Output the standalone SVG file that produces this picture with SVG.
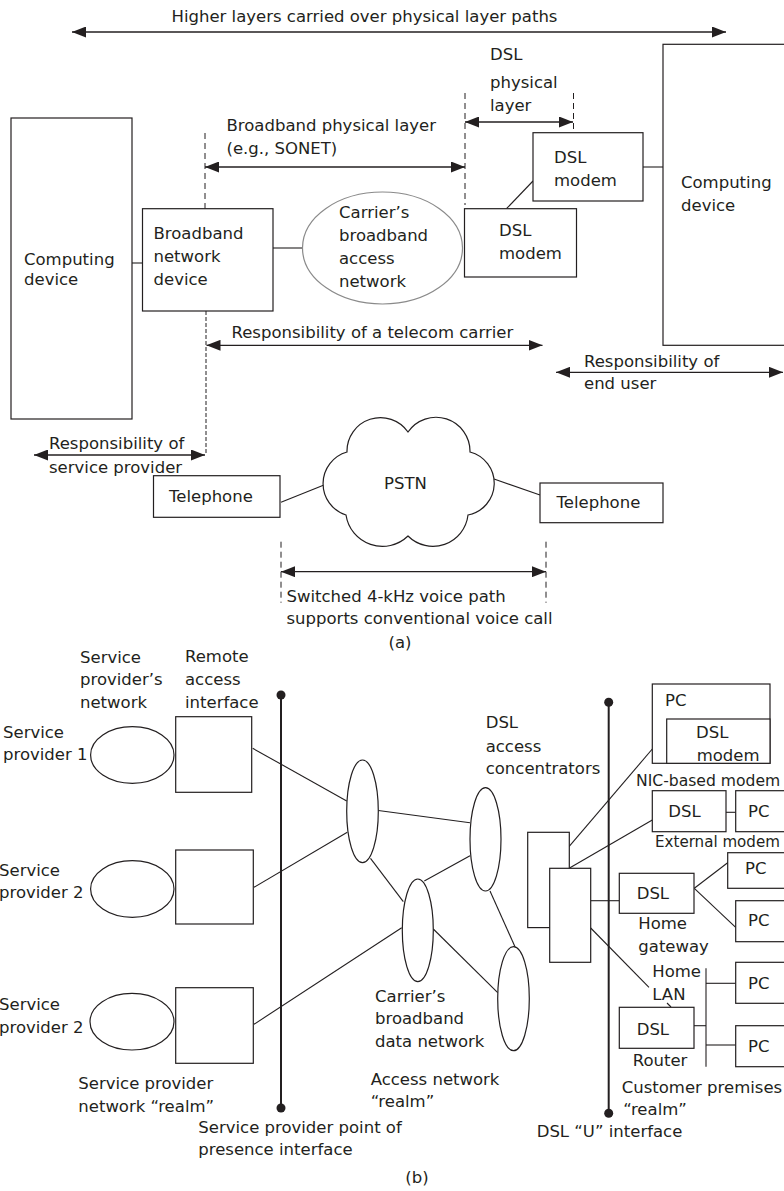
<svg xmlns="http://www.w3.org/2000/svg" width="784" height="1191" viewBox="0 0 784 1191">
<style>
text{font-family:"DejaVu Sans","Liberation Sans",sans-serif;font-size:16.5px;fill:#231f20}
.b{fill:#fff;stroke:#231f20;stroke-width:1.2}
.l{fill:none;stroke:#231f20;stroke-width:1.1}
.a{fill:none;stroke:#231f20;stroke-width:1.3;marker-start:url(#ah);marker-end:url(#ah)}
.d{fill:none;stroke:#231f20;stroke-width:1;stroke-dasharray:6 4}
.bus{fill:none;stroke:#231f20;stroke-width:2}
.dot{fill:#231f20}
</style>
<defs>
<marker id="ah" viewBox="0 0 14 11" refX="14" refY="5.5" markerWidth="14" markerHeight="11" orient="auto-start-reverse" markerUnits="userSpaceOnUse"><path d="M0,0 L14,5.5 L0,11 z" fill="#231f20"/></marker>
</defs>
<rect width="784" height="1191" fill="#fff"/>

<!-- Part (a) -->
<g id="connectors-a">
<line class="a" x1="72" y1="32" x2="726" y2="32"/>
<line class="l" x1="132" y1="263" x2="143" y2="263"/>
<line class="l" x1="273" y1="248" x2="303" y2="248"/>
<line class="d" x1="205" y1="133" x2="205" y2="209"/>
<line class="d" x1="206" y1="311" x2="206" y2="455" style="stroke-dasharray:4 2"/>
<line class="a" x1="205" y1="167" x2="465" y2="167"/>
<line class="d" x1="465" y1="93" x2="465" y2="205"/>
<line class="a" x1="465" y1="122" x2="573" y2="122"/>
<line class="d" x1="573.5" y1="93" x2="573.5" y2="133"/>
<line class="l" x1="643" y1="167" x2="663" y2="167"/>
<line class="l" x1="506.5" y1="208.7" x2="533" y2="181"/>
<line class="a" x1="206.5" y1="345.3" x2="542.5" y2="345.3"/>
<line class="a" x1="556" y1="372.3" x2="783" y2="372.3"/>
<line class="a" x1="34" y1="455" x2="205" y2="455"/>
<line class="l" x1="281" y1="502.3" x2="324" y2="485"/>
<line class="l" x1="494" y1="479" x2="540" y2="495"/>
<line class="d" x1="281" y1="541.7" x2="281" y2="602.7"/>
<line class="d" x1="546" y1="541.7" x2="546" y2="602.7"/>
<line class="a" x1="281" y1="571.7" x2="546" y2="571.7"/>
</g>
<text x="171.5" y="21.7">Higher layers carried over physical layer paths</text>

<g id="computing-left">
<rect class="b" x="11" y="118" width="121" height="301"/>
<text x="24" y="264.5">Computing</text>
<text x="24" y="285">device</text>
</g>
<g id="broadband-device">
<rect class="b" x="142.5" y="208.7" width="130.5" height="102.3"/>
<text x="153.5" y="238.5">Broadband</text>
<text x="153.5" y="262">network</text>
<text x="153.5" y="285">device</text>
</g>
<g id="carrier-network">
<ellipse cx="382.5" cy="248" rx="80" ry="56" fill="#fff" stroke="#8a8a8a" stroke-width="1.2"/>
<text x="339" y="218">Carrier’s</text>
<text x="339" y="241">broadband</text>
<text x="339" y="264">access</text>
<text x="339" y="286.5">network</text>
</g>
<g id="label-bb-phys">
<text x="226.5" y="130.7">Broadband physical layer</text>
<text x="226.5" y="153.5">(e.g., SONET)</text>
</g>
<g id="label-dsl-phys">
<text x="490" y="60">DSL</text>
<text x="490" y="88.3">physical</text>
<text x="490" y="111">layer</text>
</g>
<g id="dsl-modem-upper">
<rect class="b" x="533" y="132.7" width="110" height="68.3"/>
<text x="554" y="163.3">DSL</text>
<text x="554" y="185.7">modem</text>
</g>
<g id="dsl-modem-lower">
<rect class="b" x="464.5" y="208.7" width="112" height="68.3"/>
<text x="499" y="235.7">DSL</text>
<text x="499" y="259">modem</text>
</g>
<g id="computing-right">
<rect class="b" x="663" y="44.3" width="140" height="301"/>
<text x="681" y="188.3">Computing</text>
<text x="681" y="211">device</text>
</g>
<text x="231.5" y="338.3">Responsibility of a telecom carrier</text>
<text x="584" y="366.7">Responsibility of</text>
<text x="584" y="389">end user</text>
<text x="49" y="449.3">Responsibility of</text>
<text x="49" y="472.7">service provider</text>
<g id="telephone-left">
<rect class="b" x="153.5" y="475.7" width="126.5" height="41.6"/>
<text x="169" y="501.7">Telephone</text>
</g>
<g id="pstn">
<path class="b" d="M408,432 A34,34 0 0 1 470,452 A32.3,32.3 0 0 1 468,515 A35.3,35.3 0 0 1 408,536 A36.8,36.8 0 0 1 346,515 A32.9,32.9 0 0 1 347,452 A33.5,33.5 0 0 1 408,432 Z"/>
<text x="405.5" y="489.3" text-anchor="middle">PSTN</text>
</g>
<g id="telephone-right">
<rect class="b" x="540" y="483" width="123" height="39.7"/>
<text x="556.5" y="508.3">Telephone</text>
</g>
<text x="286.5" y="601.7">Switched 4-kHz voice path</text>
<text x="286.5" y="624">supports conventional voice call</text>
<text x="400" y="648" text-anchor="middle">(a)</text>

<!-- Part (b) -->
<g id="connectors-b">
<line class="l" x1="252.7" y1="748.3" x2="346.7" y2="801"/>
<line class="l" x1="254" y1="887.3" x2="347.3" y2="832.3"/>
<line class="l" x1="378.3" y1="810.5" x2="470" y2="822.7"/>
<line class="l" x1="370.5" y1="858.3" x2="403.3" y2="901.7"/>
<line class="l" x1="424.3" y1="881" x2="470" y2="855.7"/>
<line class="l" x1="401.7" y1="927.7" x2="254" y2="1024.3"/>
<line class="l" x1="433.3" y1="929" x2="497.7" y2="992.7"/>
<line class="l" x1="490" y1="891" x2="515" y2="946.7"/>
<line class="l" x1="569" y1="846.7" x2="652.3" y2="749"/>
<line class="l" x1="570" y1="867.7" x2="652.3" y2="820"/>
<line class="l" x1="726" y1="812.3" x2="735.7" y2="812.3"/>
<line class="l" x1="590.7" y1="900.7" x2="619.3" y2="900.7"/>
<line class="l" x1="694.3" y1="888.3" x2="728.3" y2="862.3"/>
<line class="l" x1="694.3" y1="888.3" x2="735.7" y2="927.3"/>
<line class="l" x1="590.7" y1="928" x2="649" y2="987.3"/>
<line class="l" x1="667" y1="1003" x2="671" y2="1007"/>
<line class="l" x1="706" y1="968.3" x2="706" y2="1066.7"/>
<line class="l" x1="694" y1="1025.7" x2="706" y2="1025.7"/>
<line class="l" x1="706" y1="983.3" x2="735.7" y2="983.3"/>
<line class="l" x1="706" y1="1045" x2="735.7" y2="1045"/>
</g>

<text x="80" y="662.7">Service</text>
<text x="80" y="685.3">provider’s</text>
<text x="80" y="708.3">network</text>
<text x="185" y="661.7">Remote</text>
<text x="185" y="685">access</text>
<text x="185" y="707.7">interface</text>

<g id="sp1">
<text x="3" y="737.7">Service</text>
<text x="3" y="760">provider 1</text>
<ellipse class="b" cx="132.3" cy="755" rx="41.7" ry="28.3"/>
<rect class="b" x="175.7" y="716.7" width="76" height="75.6"/>
</g>
<g id="sp2">
<text x="-1" y="876">Service</text>
<text x="-1" y="898.3">provider 2</text>
<ellipse class="b" cx="132.3" cy="889" rx="41.7" ry="28.3"/>
<rect class="b" x="175.7" y="850" width="77.6" height="74"/>
</g>
<g id="sp3">
<text x="-1" y="1010">Service</text>
<text x="-1" y="1033.3">provider 2</text>
<ellipse class="b" cx="132" cy="1021.7" rx="42" ry="28.3"/>
<rect class="b" x="175.7" y="987.7" width="77.6" height="75.6"/>
</g>
<text x="78.3" y="1089.3">Service provider</text>
<text x="78.3" y="1111.7">network “realm”</text>

<g id="pop-interface">
<line class="bus" x1="281" y1="695" x2="281" y2="1108"/>
<circle class="dot" cx="281" cy="695" r="4.5"/>
<circle class="dot" cx="281" cy="1108" r="4.5"/>
<text x="198.3" y="1133.3">Service provider point of</text>
<text x="198.3" y="1155">presence interface</text>
</g>

<g id="carrier-data-network">
<ellipse class="b" cx="362.5" cy="811.3" rx="15.8" ry="51.3"/>
<ellipse class="b" cx="485.5" cy="839.3" rx="15.5" ry="51.7"/>
<ellipse class="b" cx="417.8" cy="930.3" rx="15.5" ry="51.3"/>
<ellipse class="b" cx="513.5" cy="998.7" rx="15.8" ry="52"/>
<text x="375" y="1001.7">Carrier’s</text>
<text x="375" y="1024">broadband</text>
<text x="375" y="1046.7">data network</text>
</g>
<text x="370.7" y="1085">Access network</text>
<text x="370.7" y="1106.7">“realm”</text>

<g id="dsl-concentrators">
<rect class="b" x="527.7" y="832.3" width="41.6" height="95.3"/>
<rect class="b" x="549.7" y="868.3" width="41" height="94"/>
<text x="485.7" y="728.3">DSL</text>
<text x="485.7" y="751.7">access</text>
<text x="485.7" y="774">concentrators</text>
</g>

<g id="u-interface">
<line class="bus" x1="608.7" y1="702.3" x2="608.7" y2="1113.3"/>
<circle class="dot" cx="608.7" cy="702.3" r="4.5"/>
<circle class="dot" cx="608.7" cy="1113.3" r="4.5"/>
<text x="536.7" y="1136.7">DSL “U” interface</text>
</g>

<g id="nic-modem">
<rect class="b" x="652.3" y="684" width="117.7" height="79.3"/>
<text x="665" y="706">PC</text>
<rect class="b" x="666.7" y="719" width="103.3" height="44.3"/>
<text x="696" y="738.3">DSL</text>
<text x="696.7" y="760.7">modem</text>
<text x="636" y="786" style="font-size:15.6px">NIC-based modem</text>
</g>
<g id="external-modem">
<rect class="b" x="652.3" y="790.7" width="73.7" height="41"/>
<text x="668.3" y="817.3">DSL</text>
<rect class="b" x="735.7" y="790.7" width="60" height="41"/>
<text x="748" y="817.3">PC</text>
<text x="655" y="846.7" style="font-size:15.1px">External modem</text>
</g>
<g id="home-gateway">
<rect class="b" x="619.3" y="873.3" width="74.7" height="40"/>
<text x="636.7" y="899">DSL</text>
<text x="638.3" y="929.3">Home</text>
<text x="638.3" y="951.7">gateway</text>
</g>
<g id="gw-pc1">
<rect class="b" x="727.7" y="852.7" width="70" height="35.6"/>
<text x="745" y="874">PC</text>
</g>
<g id="gw-pc2">
<rect class="b" x="735.7" y="900.7" width="60" height="41"/>
<text x="748" y="926">PC</text>
</g>
<text x="652.3" y="977.3">Home</text>
<text x="652.3" y="1000">LAN</text>
<g id="router">
<rect class="b" x="619.3" y="1007.3" width="74.7" height="41"/>
<text x="636.7" y="1035">DSL</text>
<text x="632.7" y="1065.7">Router</text>
</g>
<g id="lan-pc1">
<rect class="b" x="735.7" y="962.3" width="60" height="41"/>
<text x="748" y="989.3">PC</text>
</g>
<g id="lan-pc2">
<rect class="b" x="735.7" y="1025.7" width="60" height="41"/>
<text x="748" y="1051.7">PC</text>
</g>
<text x="621.7" y="1093.3">Customer premises</text>
<text x="623.3" y="1115">“realm”</text>
<text x="417" y="1183" text-anchor="middle">(b)</text>
</svg>
